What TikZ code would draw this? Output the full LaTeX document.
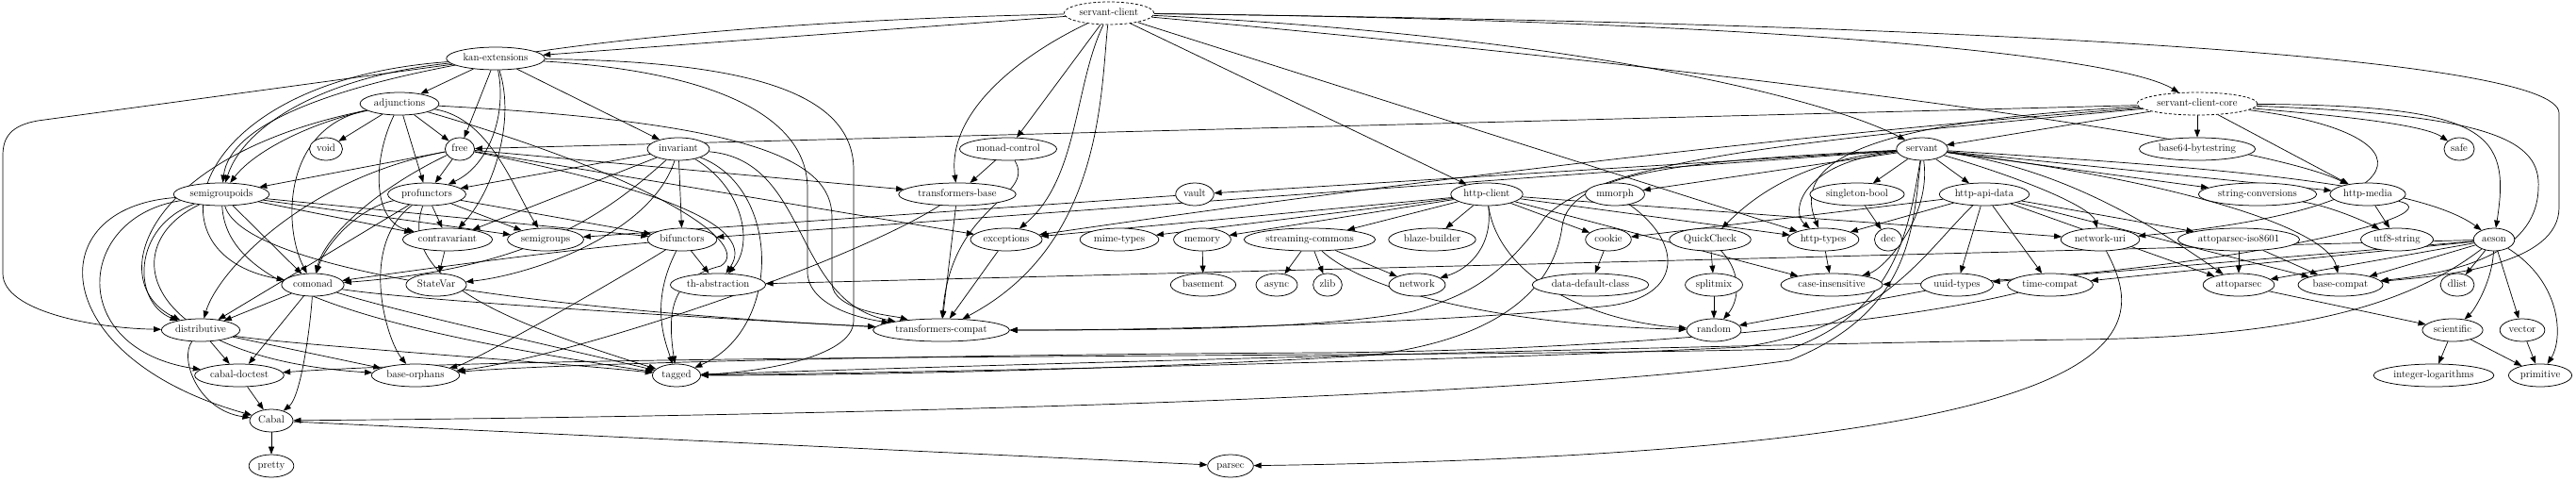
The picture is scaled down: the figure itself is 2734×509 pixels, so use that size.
\documentclass[tikz,border=0pt]{standalone}
\usetikzlibrary{shapes.geometric,arrows.meta,backgrounds}
\begin{document}
\begin{tikzpicture}[x=1pt,y=-1pt,
  pkg/.style={draw,fill=white,ellipse,line width=0.75pt,minimum height=24pt,inner xsep=2.5pt,inner ysep=0pt,text height=7.6pt,text depth=2.4pt,font=\fontsize{11}{13}\selectfont},
  dpkg/.style={pkg,dash pattern=on 3pt off 2pt},
  e/.style={-{Triangle[length=8pt,width=6pt]},line width=0.7pt},
]
\useasboundingbox (0,0) rectangle (2734,509);
% rank 0-2
\node[dpkg] (sc) at (1177,14) {servant-client};
\node[pkg] (kan) at (526,62) {kan-extensions};
\node[pkg] (adj) at (424,110) {adjunctions};
\node[dpkg] (scc) at (2332,110) {servant-client-core};
% rank 3
\node[pkg] (void) at (346,158) {void};
\node[pkg] (free) at (488,158) {free};
\node[pkg] (inv) at (720,158) {invariant};
\node[pkg] (mc) at (1070,158) {monad-control};
\node[pkg] (servant) at (2040,158) {servant};
\node[pkg] (b64) at (2332,158) {base64-bytestring};
\node[pkg] (safe) at (2610,158) {safe};
% rank 4
\node[pkg] (sgd) at (235,206) {semigroupoids};
\node[pkg] (prof) at (453,206) {profunctors};
\node[pkg] (tb) at (1016,206) {transformers-base};
\node[pkg] (vault) at (1268,206) {vault};
\node[pkg] (hc) at (1578,206) {http-client};
\node[pkg] (mmorph) at (1714,206) {mmorph};
\node[pkg] (sb) at (1971,206) {singleton-bool};
\node[pkg] (had) at (2106,206) {http-api-data};
\node[pkg] (strc) at (2396,206) {string-conversions};
\node[pkg] (hm) at (2513,206) {http-media};
% rank 5
\node[pkg] (contra) at (475,254) {contravariant};
\node[pkg] (sgs) at (579,254) {semigroups};
\node[pkg] (bif) at (724,254) {bifunctors};
\node[pkg] (exc) at (1068,254) {exceptions};
\node[pkg] (mime) at (1188,254) {mime-types};
\node[pkg] (memory) at (1276,254) {memory};
\node[pkg] (stc) at (1390,254) {streaming-commons};
\node[pkg] (blaze) at (1520,254) {blaze-builder};
\node[pkg] (cookie) at (1707,254) {cookie};
\node[pkg] (qc) at (1815,254) {QuickCheck};
\node[pkg] (ht) at (1935,254) {http-types};
\node[pkg] (dec) at (2004,254) {dec};
\node[pkg] (nuri) at (2229,254) {network-uri};
\node[pkg] (api) at (2376,254) {attoparsec-iso8601};
\node[pkg] (utf) at (2544,254) {utf8-string};
\node[pkg] (aeson) at (2647,254) {aeson};
% rank 6
\node[pkg] (comonad) at (332,302) {comonad};
\node[pkg] (sv) at (463,302) {StateVar};
\node[pkg] (tha) at (762,302) {th-abstraction};
\node[pkg] (basement) at (1277,302) {basement};
\node[pkg] (async) at (1355,302) {async};
\node[pkg] (zlib) at (1409,302) {zlib};
\node[pkg] (network) at (1504,302) {network};
\node[pkg] (ddc) at (1688,302) {data-default-class};
\node[pkg] (splitmix) at (1819,302) {splitmix};
\node[pkg] (ci) at (1944,302) {case-insensitive};
\node[pkg] (uuid) at (2077,302) {uuid-types};
\node[pkg] (tc) at (2176,302) {time-compat};
\node[pkg] (atto) at (2376,302) {attoparsec};
\node[pkg] (bc) at (2484,302) {base-compat};
\node[pkg] (dlist) at (2608,302) {dlist};
% rank 7
\node[pkg] (dist) at (213,350) {distributive};
\node[pkg] (tcompat) at (999,350) {transformers-compat};
\node[pkg] (random) at (1819,350) {random};
\node[pkg] (sci) at (2603,350) {scientific};
\node[pkg] (vector) at (2677,350) {vector};
% rank 8
\node[pkg] (cd) at (254,398) {cabal-doctest};
\node[pkg] (bo) at (441,398) {base-orphans};
\node[pkg] (tagged) at (718,398) {tagged};
\node[pkg] (il) at (2583,398) {integer-logarithms};
\node[pkg] (prim) at (2696,398) {primitive};
% rank 9-10
\node[pkg] (cabal) at (288,446) {Cabal};
\node[pkg] (pretty) at (288,494) {pretty};
\node[pkg] (parsec) at (1306,494) {parsec};

\begin{scope}[on background layer]
% servant-client
\draw[e] (sc) -- (kan);
\draw[e] (sc) .. controls (650,25) and (250,80) .. (sgd);
\draw[e] (sc) .. controls (1080,60) and (1005,120) .. (tb);
\draw[e] (sc) -- (mc);
\draw[e] (sc) .. controls (1140,90) and (1145,190) .. (exc);
\draw[e] (sc) .. controls (1168,100) and (1170,260) .. (tcompat);
\draw[e] (sc) -- (hc);
\draw[e] (sc) -- (ht);
\draw[e] (sc) .. controls (1700,40) and (1950,110) .. (servant);
\draw[e] (sc) .. controls (1900,22) and (2250,60) .. (scc);
\draw[e] (sc) .. controls (1900,80) and (2400,150) .. (hm);
\draw[e] (sc) .. controls (2100,25) and (2716,60) .. (2716,120) -- (2716,220) .. controls (2716,280) and (2600,292) .. (bc);
% kan-extensions
\draw[e] (kan) -- (adj);
\draw[e] (kan) -- (free);
\draw[e] (kan) -- (inv);
\draw[e] (kan) .. controls (538,120) and (520,175) .. (prof);
\draw[e] (kan) .. controls (548,130) and (522,205) .. (contra);
\draw[e] (kan) .. controls (350,80) and (260,130) .. (sgd);
\draw[e] (kan) .. controls (200,85) and (150,270) .. (comonad);
\draw[e] (kan) -- (40,128) .. controls (12,133) and (3,145) .. (3,165) -- (3,290) .. controls (3,330) and (100,348) .. (dist);
\draw[e] (kan) .. controls (800,65) and (906,100) .. (906,180) -- (906,340) .. controls (906,380) and (800,395) .. (tagged);
\draw[e] (kan) .. controls (750,75) and (857,120) .. (857,200) -- (857,290) .. controls (860,330) and (930,340) .. (tcompat);
% adjunctions
\draw[e] (adj) -- (void);
\draw[e] (adj) -- (free);
\draw[e] (adj) -- (prof);
\draw[e] (adj) .. controls (330,130) and (270,160) .. (sgd);
\draw[e] (adj) .. controls (300,135) and (300,240) .. (comonad);
\draw[e] (adj) .. controls (395,170) and (395,235) .. (contra);
\draw[e] (adj) .. controls (150,165) and (110,300) .. (dist);
\draw[e] (adj) .. controls (520,125) and (545,200) .. (sgs);
\draw[e] (adj) .. controls (700,190) and (800,260) .. (765,282) .. controls (712,295) and (708,330) .. (tagged);
\draw[e] (adj) .. controls (800,130) and (883,170) .. (883,230) -- (883,300) .. controls (883,330) and (950,335) .. (tcompat);
% servant-client-core
\draw[e] (scc) -- (servant);
\draw[e] (scc) -- (b64);
\draw[e] (scc) -- (hm);
\draw[e] (scc) .. controls (2450,120) and (2570,130) .. (safe);
\draw[e] (scc) .. controls (2640,112) and (2665,140) .. (aeson);
\draw[e] (scc) .. controls (2650,122) and (2697,150) .. (2694,200) .. controls (2692,272) and (2600,290) .. (bc);
\draw[e] (scc) -- (free);
\draw[e] (scc) .. controls (1950,130) and (1905,180) .. (ht);
\draw[e] (scc) .. controls (1800,150) and (1300,220) .. (exc);
\draw[e] (scc) .. controls (2580,140) and (2590,220) .. (nuri);
\draw[e] (scc) .. controls (1900,150) and (1700,170) .. (1640,230) .. controls (1590,300) and (1550,315) .. (1500,330) .. controls (1400,350) and (1200,350) .. (tcompat);
% free
\draw[e] (free) -- (prof);
\draw[e] (free) -- (sgd);
\draw[e] (free) .. controls (400,200) and (345,250) .. (comonad);
\draw[e] (free) .. controls (320,190) and (230,290) .. (dist);
\draw[e] (free) -- (exc);
\draw[e] (free) .. controls (700,200) and (805,240) .. (tha);
\draw[e] (free) -- (tb);
% invariant
\draw[e] (inv) -- (bif);
\draw[e] (inv) .. controls (640,230) and (560,285) .. (comonad);
\draw[e] (inv) -- (contra);
\draw[e] (inv) -- (prof);
\draw[e] (inv) .. controls (690,250) and (560,292) .. (sv);
\draw[e] (inv) .. controls (830,200) and (830,350) .. (tagged);
\draw[e] (inv) .. controls (790,200) and (800,260) .. (tha);
\draw[e] (inv) .. controls (860,170) and (840,320) .. (tcompat);
% monad-control
\draw[e] (mc) -- (tb);
\draw[e] (mc) .. controls (1100,210) and (1010,215) .. (tcompat);
% servant
\draw[e] (servant) -- (sb);
\draw[e] (servant) -- (had);
\draw[e] (servant) -- (vault);
\draw[e] (servant) -- (bif);
\draw[e] (servant) -- (mmorph);
\draw[e] (servant) .. controls (1900,170) and (1850,220) .. (qc);
\draw[e] (servant) .. controls (1910,172) and (1900,225) .. (ht);
\draw[e] (servant) .. controls (2050,230) and (2000,285) .. (ci);
\draw[e] (servant) -- (strc);
\draw[e] (servant) -- (hm);
\draw[e] (servant) .. controls (2150,190) and (2220,220) .. (nuri);
\draw[e] (servant) .. controls (2300,175) and (2560,190) .. (aeson);
\draw[e] (servant) .. controls (2200,180) and (2300,250) .. (atto);
\draw[e] (servant) .. controls (2300,190) and (2470,240) .. (bc);
\draw[e] (servant) .. controls (1800,170) and (1665,180) .. (1658,240) .. controls (1650,300) and (1600,360) .. (1450,377) .. controls (1200,392) and (900,398) .. (tagged);
\draw[e] (servant) .. controls (2030,240) and (2030,330) .. (1900,382) .. controls (1600,425) and (800,442) .. (cabal);
\draw[e] (servant) .. controls (2025,250) and (2010,330) .. (1900,370) .. controls (1500,380) and (600,374) .. (cd);
% semigroupoids
\draw[e] (sgd) .. controls (120,260) and (150,380) .. (bo);
\draw[e] (sgd) -- (bif);
\draw[e] (sgd) -- (comonad);
\draw[e] (sgd) -- (contra);
\draw[e] (sgd) .. controls (140,240) and (140,320) .. (dist);
\draw[e] (sgd) -- (sgs);
\draw[e] (sgd) .. controls (240,290) and (330,340) .. (tagged);
\draw[e] (sgd) .. controls (260,290) and (600,330) .. (tcompat);
\draw[e] (sgd) .. controls (40,220) and (50,380) .. (cabal);
\draw[e] (sgd) .. controls (80,230) and (70,370) .. (cd);
% profunctors
\draw[e] (prof) .. controls (380,260) and (410,360) .. (bo);
\draw[e] (prof) -- (bif);
\draw[e] (prof) .. controls (380,220) and (345,260) .. (comonad);
\draw[e] (prof) -- (contra);
\draw[e] (prof) -- (dist);
\draw[e] (prof) -- (sgs);
\draw[e] (prof) .. controls (420,300) and (550,345) .. (tagged);
% transformers-base
\draw[e] (tb) .. controls (900,280) and (600,380) .. (bo);
\draw[e] (tb) -- (tcompat);
\draw[e] (vault) -- (sgs);
% http-client
\draw[e] (hc) -- (blaze);
\draw[e] (hc) -- (cookie);
\draw[e] (hc) -- (exc);
\draw[e] (hc) -- (ht);
\draw[e] (hc) -- (memory);
\draw[e] (hc) -- (mime);
\draw[e] (hc) .. controls (1585,260) and (1560,285) .. (network);
\draw[e] (hc) -- (nuri);
\draw[e] (hc) .. controls (1590,290) and (1680,340) .. (random);
\draw[e] (hc) -- (stc);
\draw[e] (hc) -- (ci);
\draw[e] (mmorph) .. controls (1790,260) and (1785,318) .. (1700,325) .. controls (1500,345) and (1200,350) .. (tcompat);
\draw[e] (sb) -- (dec);
% http-api-data
\draw[e] (had) -- (atto);
\draw[e] (had) -- (api);
\draw[e] (had) -- (bc);
\draw[e] (had) -- (cookie);
\draw[e] (had) -- (ht);
\draw[e] (had) .. controls (2040,270) and (2000,345) .. (1850,368) .. controls (1500,385) and (900,396) .. (tagged);
\draw[e] (had) -- (tc);
\draw[e] (had) -- (uuid);
\draw[e] (strc) .. controls (2480,220) and (2520,240) .. (utf);
\draw[e] (hm) .. controls (2620,230) and (2300,298) .. (ci);
\draw[e] (hm) -- (utf);
\draw[e] (contra) -- (sv);
% bifunctors
\draw[e] (bif) .. controls (650,300) and (500,385) .. (bo);
\draw[e] (bif) .. controls (600,265) and (450,285) .. (comonad);
\draw[e] (bif) -- (tha);
\draw[e] (bif) .. controls (690,320) and (705,360) .. (tagged);
\draw[e] (exc) -- (tcompat);
\draw[e] (memory) -- (basement);
\draw[e] (stc) -- (async);
\draw[e] (stc) -- (network);
\draw[e] (stc) .. controls (1450,310) and (1600,345) .. (random);
\draw[e] (stc) -- (zlib);
\draw[e] (cookie) -- (ddc);
\draw[e] (qc) .. controls (1850,290) and (1845,320) .. (random);
\draw[e] (qc) -- (splitmix);
\draw[e] (ht) -- (ci);
\draw[e] (nuri) .. controls (2280,350) and (2300,480) .. (parsec);
\draw[e] (api) -- (atto);
\draw[e] (api) -- (bc);
% aeson
\draw[e] (aeson) -- (atto);
\draw[e] (aeson) -- (bc);
\draw[e] (aeson) -- (dlist);
\draw[e] (aeson) .. controls (2720,300) and (2720,360) .. (prim);
\draw[e] (aeson) .. controls (2645,300) and (2625,330) .. (sci);
\draw[e] (aeson) .. controls (2560,320) and (2450,358) .. (2200,360) .. controls (1900,364) and (1100,385) .. (tagged);
\draw[e] (aeson) -- (tha);
\draw[e] (aeson) -- (tc);
\draw[e] (aeson) -- (uuid);
\draw[e] (aeson) -- (vector);
% comonad
\draw[e] (comonad) -- (dist);
\draw[e] (comonad) .. controls (420,330) and (600,370) .. (tagged);
\draw[e] (comonad) .. controls (450,320) and (800,340) .. (tcompat);
\draw[e] (comonad) -- (cd);
\draw[e] (comonad) .. controls (330,340) and (320,420) .. (cabal);
\draw[e] (splitmix) -- (random);
\draw[e] (uuid) -- (random);
\draw[e] (tc) .. controls (2000,345) and (1700,372) .. (1400,374) .. controls (1000,376) and (600,385) .. (bo);
\draw[e] (atto) -- (sci);
% distributive
\draw[e] (dist) -- (bo);
\draw[e] (dist) .. controls (300,365) and (600,385) .. (tagged);
\draw[e] (dist) -- (cd);
\draw[e] (dist) .. controls (190,380) and (210,435) .. (cabal);
\draw[e] (sci) -- (il);
\draw[e] (sci) -- (prim);
\draw[e] (vector) -- (prim);
\draw[e] (cd) -- (cabal);
\draw[e] (cabal) -- (pretty);
\draw[e] (cabal) -- (parsec);
\end{scope}
\end{tikzpicture}
\end{document}
